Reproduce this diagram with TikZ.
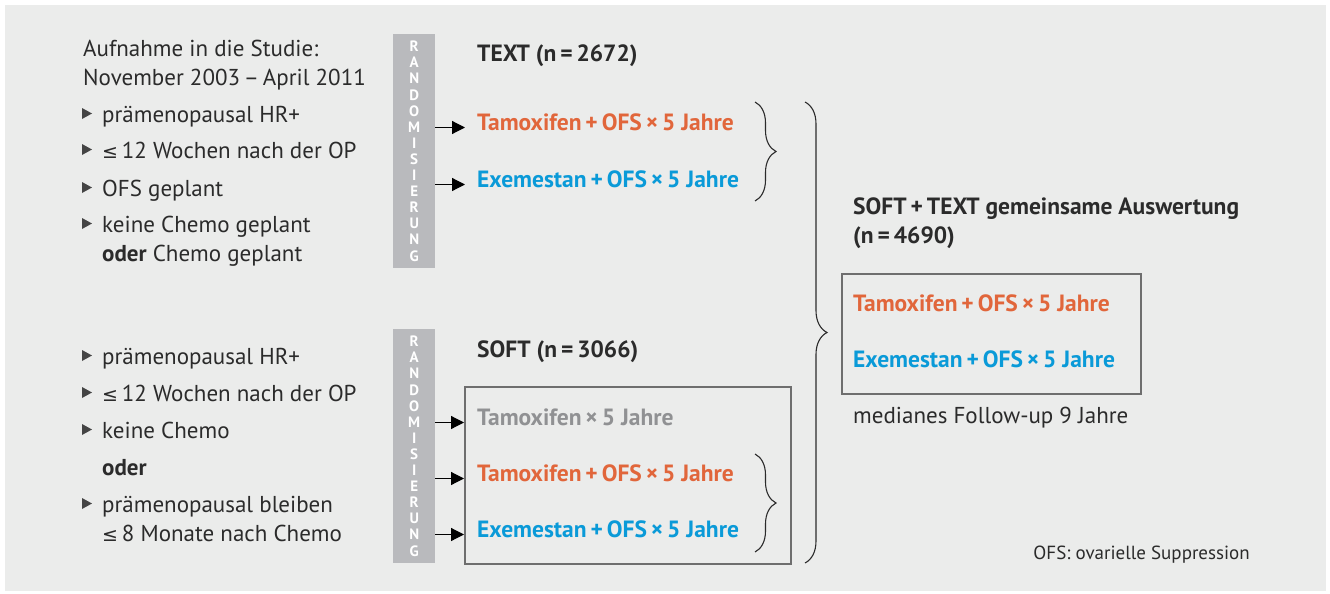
\documentclass[tikz,border=0pt]{standalone}
\usepackage{fontspec}
\setmainfont{PT Sans}
\newfontfamily\symfont{DejaVu Sans}
\usetikzlibrary{arrows.meta,decorations.pathreplacing,positioning}

\definecolor{bgray}{HTML}{EBECEB}
\definecolor{ink}{HTML}{2B2B2B}
\definecolor{bargray}{HTML}{B9BABD}
\definecolor{tamox}{HTML}{E1663B}
\definecolor{exem}{HTML}{0A9AD8}
\definecolor{plain}{HTML}{909193}
\definecolor{boxline}{HTML}{6E6E6E}
\definecolor{bulg}{HTML}{444444}

\newcommand{\leqs}{{\symfont\fontsize{19}{20}\selectfont ≤}\,}

\begin{document}
\begin{tikzpicture}[
    x=1pt, y=-1pt,
    txt/.style={anchor=base west, inner sep=0pt, text=ink, font=\fontsize{23}{26}\selectfont},
    head/.style={txt, font=\fontsize{23.5}{26}\selectfont\bfseries},
    arm/.style={head, text=#1},
    randbar/.style={fill=bargray, text=white, inner sep=0pt, minimum width=42pt,
        minimum height=234pt, align=center, font=\fontsize{15}{16.1}\selectfont\bfseries},
    armbox/.style={draw=boxline, line width=1.8pt, inner sep=0pt},
    arrow/.style={-{Triangle[length=13pt,width=13pt]}, line width=1.2pt, black},
    curly/.style={decorate, decoration={brace, amplitude=#1}, line width=1.1pt, ink}
]
\useasboundingbox (0,0) rectangle (1330,594);
\fill[bgray] (5,5) rectangle (1326,591);

% Left column: inclusion criteria
\node[txt] (studie) at (83,57) {Aufnahme in die Studie:};
\node[txt] (zeit) at (83,85) {November 2003\,–\,April 2011};
\node[txt] (ta) at (102,122) {prämenopausal HR+};
\node[txt] (tb) at (102,158) {\leqs 12 Wochen nach der OP};
\node[txt] (tc) at (102,196) {OFS geplant};
\node[txt] (td) at (102,232) {keine Chemo geplant};
\node[txt] (tdd) at (102,261) {\textbf{oder} Chemo geplant};

\node[txt] (sa) at (102,364) {prämenopausal HR+};
\node[txt] (sb) at (102,401) {\leqs 12 Wochen nach der OP};
\node[txt] (sc) at (102,438) {keine Chemo};
\node[txt] (sor) at (102,475) {\textbf{oder}};
\node[txt] (sd) at (102,512) {prämenopausal bleiben};
\node[txt] (sdd) at (102,541) {\leqs 8 Monate nach Chemo};

\foreach \n in {ta,tb,tc,td,sa,sb,sc,sd}
    \fill[bulg] (\n.base west) ++(-20,-3) -- ++(0,-11) -- ++(10,5.5) -- cycle;

% TEXT trial
\node[randbar, anchor=north west] (randT) at (393,34) {R\\A\\N\\D\\O\\M\\I\\S\\I\\E\\R\\U\\N\\G};
\node[head] (textN) at (477,62) {TEXT (n\,=\,2672)};
\node[arm=tamox] (t1) at (477,130) {Tamoxifen\,+\,OFS\,×\,5 Jahre};
\node[arm=exem] (t2) at (477,187) {Exemestan\,+\,OFS\,×\,5 Jahre};

% SOFT trial
\node[randbar, anchor=north west] (randS) at (393,329) {R\\A\\N\\D\\O\\M\\I\\S\\I\\E\\R\\U\\N\\G};
\node[head] (softN) at (477,357) {SOFT (n\,=\,3066)};
\node[armbox, minimum width=326pt, minimum height=177pt, anchor=north west] (softbox) at (464,386) {};
\node[arm=plain] (s1) at (477,425) {Tamoxifen\,×\,5 Jahre};
\node[arm=tamox] (s2) at (477,481) {Tamoxifen\,+\,OFS\,×\,5 Jahre};
\node[arm=exem] (s3) at (477,537) {Exemestan\,+\,OFS\,×\,5 Jahre};

% Arrows
\foreach \n in {t1,t2}
    \draw[arrow] (randT.east |- \n.mid west) -- ([xshift=-12pt]\n.mid west);
\foreach \n in {s1,s2,s3}
    \draw[arrow] (randS.east |- \n.mid west) -- (softbox.west |- \n.mid west);

% Braces
\coordinate (bT1) at (755,102);
\coordinate (bT2) at (755,201);
\coordinate (bS1) at (755,454);
\coordinate (bS2) at (755,552);
\coordinate (bA1) at (805,102);
\coordinate (bA2) at (805,563);
\draw[curly=21pt] (bT1) -- (bT2);
\draw[curly=21pt] (bS1) -- (bS2);
\draw[curly=22pt] (bA1) -- (bA2);

% Pooled analysis
\node[head] (both) at (853,214) {SOFT\,+\,TEXT gemeinsame Auswertung};
\node[head] (bothN) at (853,243) {(n\,=\,4690)};
\node[armbox, minimum width=299pt, minimum height=120pt, anchor=north west] (combbox) at (841,273) {};
\node[arm=tamox] (c1) at (853,311) {Tamoxifen\,+\,OFS\,×\,5 Jahre};
\node[arm=exem] (c2) at (853,367) {Exemestan\,+\,OFS\,×\,5 Jahre};
\node[txt] (fu) at (853,423) {medianes Follow-up 9 Jahre};
\node[txt, anchor=base east, font=\fontsize{19}{22}\selectfont] (note) at (1250,559) {OFS: ovarielle Suppression};

\end{tikzpicture}
\end{document}
